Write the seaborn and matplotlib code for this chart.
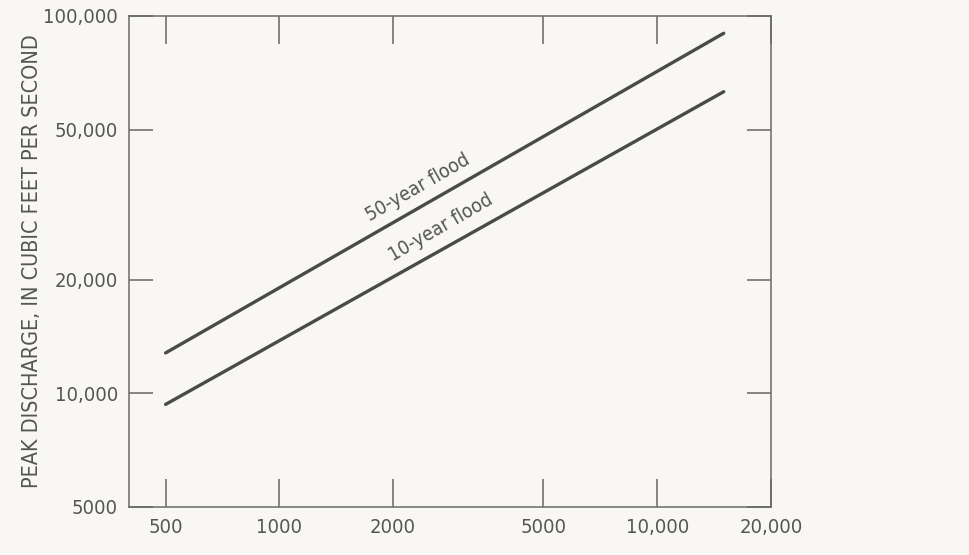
import numpy as np
import pandas as pd
import matplotlib
matplotlib.use('Agg')
import matplotlib.pyplot as plt
from matplotlib import font_manager
import seaborn as sns

# data (log-log straight lines)
area = [500, 15000]
q50 = [12800, 90000]
q10 = [9350, 63000]
series_names = ['50-year flood', '10-year flood']
label_x = [2320, 2680]

x_ticks = [500, 1000, 2000, 5000, 10000, 20000]
x_tick_labels = ['500', '1000', '2000', '5000', '10,000', '20,000']
y_ticks = [5000, 10000, 20000, 50000, 100000]
y_tick_labels = ['5000', '10,000', '20,000', '50,000', '100,000']

df = pd.DataFrame({
    'area': area * 2,
    'peak': q50 + q10,
    'flood': [series_names[0]] * 2 + [series_names[1]] * 2,
})

bg = '#f8f7f3'
ink = '#4a4a4a'
txt = '#555555'

sns.set_style('ticks')

# pick a narrow font if one is installed
fonts = font_manager.fontManager.ttflist
narrow = [f for f in fonts if 'narrow' in f.name.lower() or 'condensed' in f.name.lower()
          or 'condensed' in str(f.stretch)]
fam = ['Liberation Sans Narrow']
stretch = 'normal'
if narrow:
    pref = sorted(narrow, key=lambda f: ('Liberation' not in f.name, 'DejaVu' not in f.name,
                                         f.weight != 400 and f.weight != 'normal',
                                         f.style != 'normal'))
    fam = [pref[0].name]
    stretch = pref[0].stretch
plt.rcParams['font.family'] = fam + ['DejaVu Sans']
plt.rcParams['font.stretch'] = stretch

fig = plt.figure(figsize=(9.69, 5.55), dpi=100, facecolor=bg)
ax = fig.add_axes([0.1331, 0.0865, 0.6625, 0.8847])
ax.set_facecolor(bg)

sns.lineplot(data=df, x='area', y='peak', hue='flood', palette=[ink, ink],
             linewidth=2.4, legend=False, ax=ax)

ax.set_xscale('log')
ax.set_yscale('log')
ax.set_xlim(400, 20000)
ax.set_ylim(5000, 100000)
ax.set_xticks(x_ticks)
ax.set_xticklabels(x_tick_labels)
ax.set_yticks(y_ticks)
ax.set_yticklabels(y_tick_labels)
ax.minorticks_off()

ax.tick_params(axis='both', direction='in', colors='#666666', width=1.1,
               labelcolor=txt, labelsize=14.5, top=True, right=True, pad=8)
ax.tick_params(axis='x', length=20)
ax.tick_params(axis='y', length=17)
for s in ax.spines.values():
    s.set_color('#6a6a6a')
    s.set_linewidth(1.1)

ax.set_ylabel('PEAK DISCHARGE, IN CUBIC FEET PER SECOND', fontsize=15.5,
              color=txt, labelpad=0.5)
ax.set_xlabel('DRAINAGE AREA, IN SQUARE MILES', fontsize=15, color=txt,
              labelpad=15)

# curve labels, placed just above each line
for name, ys, lx, off in zip(series_names, [q50, q10], label_x, [15, 16]):
    slope = (np.log10(ys[1]) - np.log10(ys[0])) / (np.log10(area[1]) - np.log10(area[0]))
    ly = 10 ** (np.log10(ys[0]) + slope * (np.log10(lx) - np.log10(area[0])))
    ax.annotate(name, (lx, ly), xytext=(0, off), textcoords='offset points',
                ha='center', va='center', rotation=30, rotation_mode='anchor',
                fontsize=14, color=txt)

fig.savefig('out.png', dpi=100, facecolor=bg)
